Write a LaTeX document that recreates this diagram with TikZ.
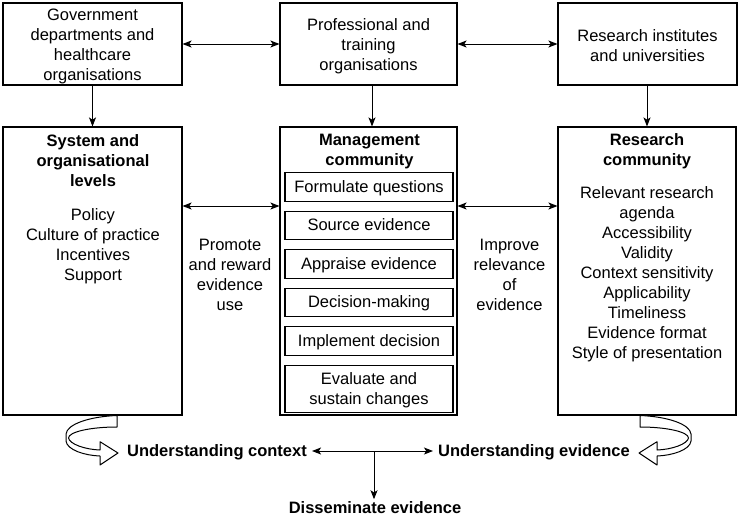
\documentclass[tikz,border=0pt]{standalone}
\usepackage{fontspec}
\setmainfont{Liberation Sans}
\usetikzlibrary{arrows.meta}
\begin{document}
\begin{tikzpicture}[x=1pt,y=-1pt,
  every node/.style={font=\fontsize{16.5}{20}\selectfont},
  box/.style={draw,line width=1.1pt,inner sep=0pt},
  inboxbase/.style={draw,line width=1.1pt,inner sep=0pt,minimum width=168pt,align=center},
  inbox/.style={inboxbase,minimum height=28.5pt,text height=13pt,text depth=2.5pt},
  txt/.style={align=center,inner sep=0pt},
  btxt/.style={align=center,inner sep=0pt,font=\fontsize{16.5}{20}\selectfont\bfseries},
  arr/.style={line width=1pt,-{Stealth[length=9pt,width=7pt,inset=2.2pt]}},
  darr/.style={line width=1pt,{Stealth[length=9pt,width=7pt,inset=2.2pt]}-{Stealth[length=9pt,width=7pt,inset=2.2pt]}},
  fat/.style={draw,fill=white,line width=1pt,line join=round}]
\useasboundingbox (0,0) rectangle (741,520);

% top boxes
\node[box,minimum width=179pt,minimum height=82pt] (t1) at (92.5,44) {};
\node[box,minimum width=177pt,minimum height=82pt] (t2) at (368.5,44) {};
\node[box,minimum width=179pt,minimum height=82pt] (t3) at (647.5,44) {};
\node[txt] (t1t) at (92.5,46.5) {Government\\departments and\\healthcare\\organisations};
\node[txt] (t2t) at (368.5,46.5) {Professional and\\training\\organisations};
\node[txt] (t3t) at (647.5,46) {Research institutes\\and universities};

% big boxes
\node[box,minimum width=179pt,minimum height=288pt] (b1) at (92.5,271) {};
\node[box,minimum width=177pt,minimum height=288pt] (b2) at (368.5,271) {};
\node[box,minimum width=178pt,minimum height=288pt] (b3) at (647,271) {};

% left content
\node[btxt] (b1h) at (93,161) {System and\\organisational\\levels};
\node[txt] (b1l) at (93,246) {Policy\\Culture of practice\\Incentives\\Support};

% middle content
\node[btxt] (b2h) at (369.5,151.5) {Management\\community};
\node[inbox] (s1) at (369,187) {Formulate questions};
\node[inbox] (s2) at (369,225.5) {Source evidence};
\node[inbox] (s3) at (369,264) {Appraise evidence};
\node[inbox] (s4) at (369,302.5) {Decision-making};
\node[inbox] (s5) at (369,341) {Implement decision};
\node[inboxbase,minimum height=47.7pt] (s6) at (369,389) {};
\node[txt] (s6t) at (369,390.5) {Evaluate and\\sustain changes};

% right content
\node[btxt] (b3h) at (647,151.5) {Research\\community};
\node[txt] (b3l) at (647,274) {Relevant research\\agenda\\Accessibility\\Validity\\Context sensitivity\\Applicability\\Timeliness\\Evidence format\\Style of presentation};

% side labels
\node[txt] (lab1) at (230,274.5) {Promote\\and reward\\evidence\\use};
\node[txt] (lab2) at (509.5,274.5) {Improve\\relevance\\of\\evidence};

% connectors top
\draw[darr] (t1.east) -- (t2.west);
\draw[darr] (t2.east) -- (t3.west);
\draw[arr] (t1.south) -- (b1.north);
\draw[arr] ([xshift=3.5pt]t2.south) -- ([xshift=3.5pt]b2.north);
\draw[arr] (t3.south -| b3.north) -- (b3.north);
\coordinate (ya) at (0,206);
\draw[darr] (b1.east |- ya) -- (b2.west |- ya);
\draw[darr] (b2.east |- ya) -- (b3.west |- ya);

% bottom
\node[btxt,inner sep=5pt] (uc) at (217,452.5) {Understanding context};
\node[btxt,inner sep=5pt] (ue) at (534,452.5) {Understanding evidence};
\node[btxt,inner sep=2pt] (dis) at (375,507.5) {Disseminate evidence};
\coordinate (mid) at (374,451);
\draw[darr] (uc.east |- mid) -- (ue.west |- mid);
\draw[arr] (mid) -- (mid |- dis.north);

% curly fat arrows
\newcommand{\curlyarrowshape}{%
  \path[fat] (117,415.5) .. controls (90,416.5) and (67,424) .. (66,434)
    -- (66,441) .. controls (67,450) and (85,455.5) .. (100,456)
    -- (100,465) -- (118,453) -- (100,441.7) -- (100,450)
    .. controls (85,449.5) and (69.5,444) .. (68.5,438)
    .. controls (68.5,432) and (90,427) .. (117,427) -- cycle;}
\curlyarrowshape
\begin{scope}[xshift=757pt,xscale=-1]
\curlyarrowshape
\end{scope}
\end{tikzpicture}
\end{document}
